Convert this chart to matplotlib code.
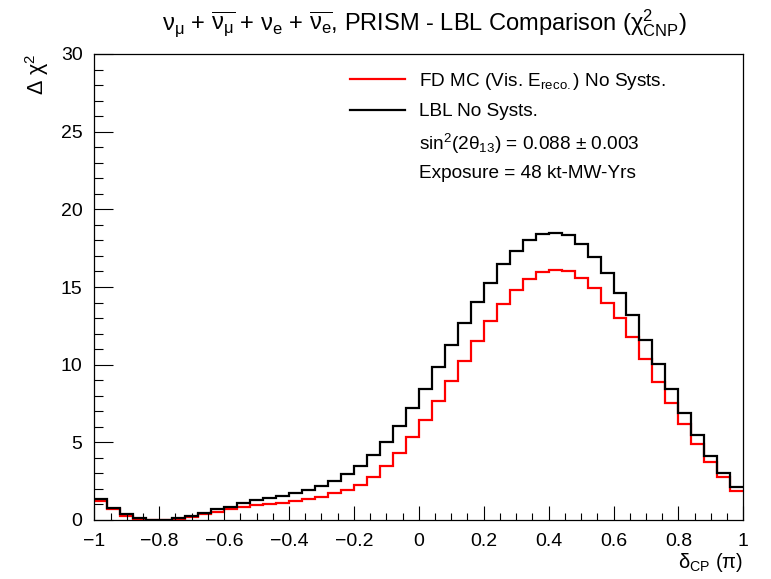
import numpy as np
import matplotlib
matplotlib.use("Agg")
import matplotlib.pyplot as plt
from matplotlib.ticker import MultipleLocator

plt.rcParams['font.family'] = ['Liberation Sans', 'DejaVu Sans']
plt.rcParams['mathtext.fontset'] = 'custom'
plt.rcParams['mathtext.rm'] = 'Liberation Sans'
plt.rcParams['mathtext.it'] = 'Liberation Sans:italic'
plt.rcParams['mathtext.bf'] = 'Liberation Sans:bold'
plt.rcParams['mathtext.default'] = 'regular'

# ---- data ----
x_min, x_max, n_bins = -1.0, 1.0, 50
lbl_no_systs = [1.35, 0.75, 0.37, 0.11, 0.03, 0.0, 0.15, 0.28, 0.47, 0.69,
                0.86, 1.07, 1.30, 1.43, 1.56, 1.73, 1.94, 2.19, 2.53, 2.96,
                3.48, 4.19, 5.04, 6.05, 7.19, 8.45, 9.87, 11.27, 12.66, 14.06,
                15.28, 16.47, 17.32, 18.03, 18.44, 18.50, 18.35, 17.79, 16.91, 15.88,
                14.60, 13.20, 11.59, 10.05, 8.44, 6.91, 5.45, 4.12, 3.00, 2.10]
fd_mc_no_systs = [1.20, 0.69, 0.24, 0.03, 0.0, 0.0, 0.05, 0.20, 0.39, 0.54,
                  0.74, 0.84, 0.94, 1.03, 1.12, 1.20, 1.32, 1.50, 1.72, 1.93,
                  2.23, 2.79, 3.48, 4.34, 5.32, 6.44, 7.67, 8.93, 10.26, 11.55,
                  12.78, 13.90, 14.81, 15.52, 15.95, 16.12, 16.01, 15.60, 14.92, 13.99,
                  13.00, 11.76, 10.35, 8.91, 7.55, 6.18, 4.87, 3.73, 2.75, 1.88]
x_ticks = [-1, -0.8, -0.6, -0.4, -0.2, 0, 0.2, 0.4, 0.6, 0.8, 1]
y_ticks = [0, 5, 10, 15, 20, 25, 30]

edges = np.linspace(x_min, x_max, n_bins + 1)

W, H = 771, 579
fig = plt.figure(figsize=(W / 100, H / 100), dpi=100)
L, R, T, B = 94.3, 743.3, 54.0, 520.0
ax = fig.add_axes([L / W, 1 - B / H, (R - L) / W, (B - T) / H])

ax.stairs(fd_mc_no_systs, edges, color='#ff0000', lw=1.6, baseline=None)
ax.stairs(lbl_no_systs, edges, color='black', lw=1.6, baseline=None)

ax.set_xlim(x_min, x_max)
ax.set_ylim(0, 30)
ax.set_xticks(x_ticks)
ax.set_xticklabels([('%g' % v).replace('-', '\u2212') for v in x_ticks])
ax.set_yticks(y_ticks)
ax.xaxis.set_minor_locator(MultipleLocator(0.05))
ax.yaxis.set_minor_locator(MultipleLocator(1))
ax.tick_params(which='both', direction='in', top=False, right=False, width=0.8)
ax.tick_params(axis='y', which='major', length=13.7, pad=8.5, labelsize=14)
ax.tick_params(axis='y', which='minor', length=6.8)
ax.tick_params(axis='x', which='major', length=10, pad=9, labelsize=14)
ax.tick_params(axis='x', which='minor', length=5)
for s in ax.spines.values():
    s.set_linewidth(0.9)

ax.set_ylabel(r'$\Delta\ \chi^{2}$', fontsize=15.5, loc='top')
ax.yaxis.set_label_coords(-0.066, 1.0)
ax.set_xlabel(r'$\delta_{CP}$ ($\pi$)', fontsize=14.5, loc='right')
ax.xaxis.set_label_coords(1.0, -0.066)

fig.text(0.55, 1 - 23 / H,
         r'$\nu_{\mu}$ + $\overline{\nu_{\mu}}$ + $\nu_{e}$ + $\overline{\nu_{e}}$, PRISM - LBL Comparison ($\chi^{2}_{CNP}$)',
         ha='center', va='center', fontsize=17)

# legend
def ax_x(px):
    return (px - L) / (R - L)

def ax_y(py):
    return (B - py) / (B - T)

rows = [79, 110, 141, 172]
ax.plot([ax_x(350), ax_x(405)], [ax_y(rows[0])] * 2, color='#ff0000', lw=1.6,
        transform=ax.transAxes, clip_on=False)
ax.plot([ax_x(350), ax_x(405)], [ax_y(rows[1])] * 2, color='black', lw=1.6,
        transform=ax.transAxes, clip_on=False)
labels = [r'FD MC (Vis. E$_{reco.}$) No Systs.', 'LBL No Systs.',
          r'sin$^{2}$(2$\theta_{13}$) = 0.088 $\pm$ 0.003', 'Exposure = 48 kt-MW-Yrs']
for r, lab in zip(rows, labels):
    ax.text(ax_x(419), ax_y(r), lab, transform=ax.transAxes, ha='left',
            va='center_baseline', fontsize=13.7)

fig.savefig('out.png', dpi=100)
